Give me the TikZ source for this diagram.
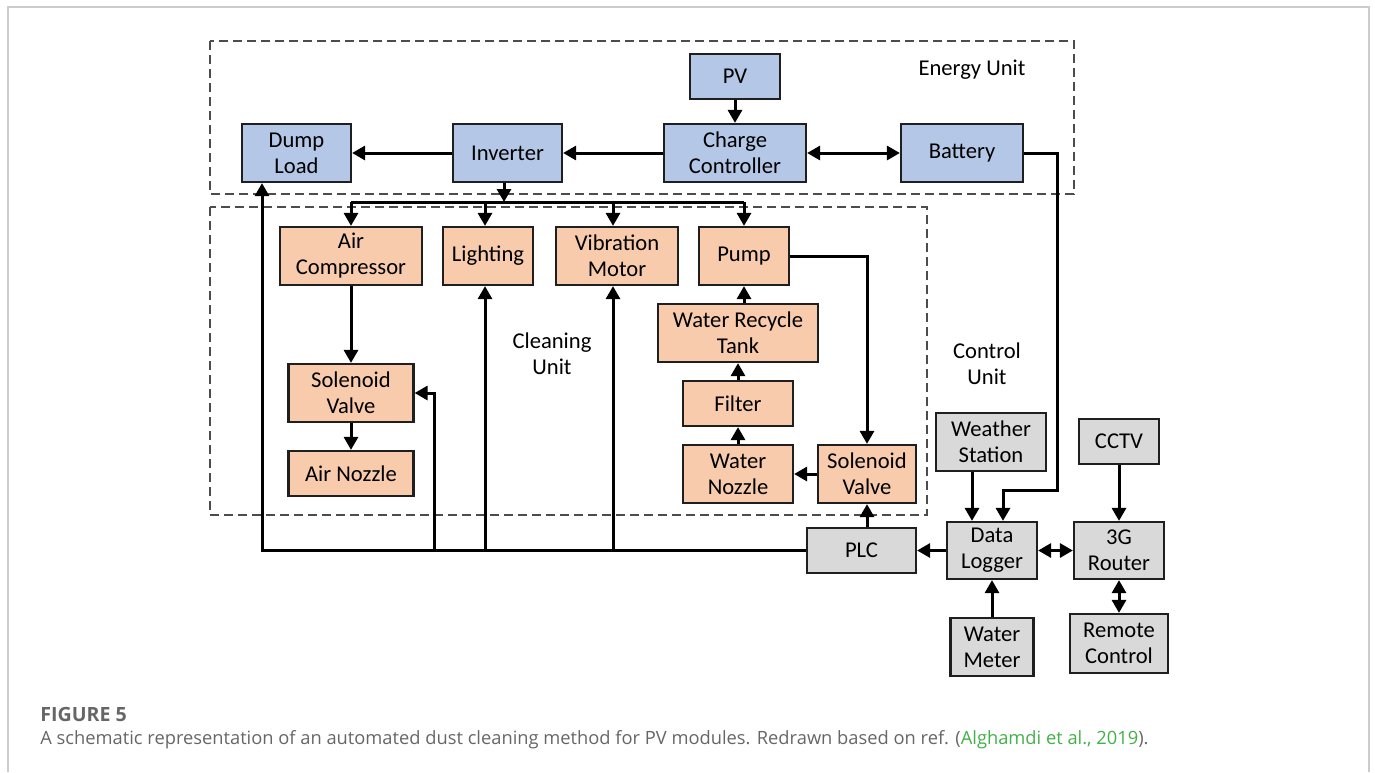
\documentclass[tikz,border=0pt]{standalone}
\usepackage{fontspec}
\setmainfont{Carlito}
\newfontfamily\capfont{Open Sans}
\usetikzlibrary{arrows.meta,calc}
\definecolor{eblue}{HTML}{B4C7E7}
\definecolor{corange}{HTML}{F8CBAD}
\definecolor{cgray}{HTML}{D9D9D9}
\definecolor{capgray}{HTML}{666666}
\definecolor{capgreen}{RGB}{67,176,73}
\begin{document}
\begin{tikzpicture}[x=0.5pt,y=-0.5pt,
  box/.style={draw=black!88, line width=1.1pt, align=center, inner sep=0pt, font=\fontsize{11.3}{13}\selectfont},
  ebox/.style={box, fill=eblue},
  cbox/.style={box, fill=corange},
  gbox/.style={box, fill=cgray},
  conn/.style={line width=1.5pt, black},
  arr/.style={conn, -{Triangle[length=6.5pt,width=7pt]}},
  darr/.style={conn, {Triangle[length=6.5pt,width=7pt]}-{Triangle[length=6.5pt,width=7pt]}},
  unitbox/.style={draw=black!70, line width=0.9pt, dash pattern=on 4.5pt off 2.5pt},
  lbl/.style={align=center, inner sep=0pt, font=\fontsize{11.3}{13}\selectfont}
]
\useasboundingbox (0,0) rectangle (1375,772);
% outer frame
\draw[black!20, line width=1pt] (8,772) -- (8,7) -- (1369,7) -- (1369,772);
% unit frames
\draw[unitbox] (210,41) rectangle (1074,194);
\draw[unitbox] (210,207) rectangle (927,515);
\node[lbl] (eu) at (972,70) {Energy Unit};
\node[lbl] (cu) at (552,354) {Cleaning\\Unit};
\node[lbl] (ctu) at (987,364) {Control\\Unit};
% energy unit
\node[ebox, minimum width=54.5pt, minimum height=29pt] (dump) at (296.5,153) {Dump\\Load};
\node[ebox, minimum width=54.5pt, minimum height=29pt] (inv) at (507.5,153) {Inverter};
\node[ebox, minimum width=71pt, minimum height=29pt] (cc) at (735,153) {Charge\\Controller};
\node[ebox, minimum width=45pt, minimum height=22.5pt] (pv) at (735,76.5) {PV};
\node[ebox, minimum width=61pt, minimum height=29pt] (bat) at (962,153) {Battery};
% cleaning unit
\node[cbox, minimum width=71pt, minimum height=29pt] (ac) at (351,256) {Air\\Compressor};
\node[cbox, minimum width=45pt, minimum height=29pt] (light) at (488,256) {Lighting};
\node[cbox, minimum width=61pt, minimum height=29pt] (vib) at (617,256) {Vibration\\Motor};
\node[cbox, minimum width=45pt, minimum height=29pt] (pump) at (744,256) {Pump};
\node[cbox, minimum width=62.5pt, minimum height=29pt] (sva) at (351,393) {Solenoid\\Valve};
\node[cbox, minimum width=62.5pt, minimum height=22.5pt] (an) at (351,473.5) {Air Nozzle};
\node[cbox, minimum width=80pt, minimum height=29pt] (tank) at (738,333) {Water Recycle\\Tank};
\node[cbox, minimum width=55pt, minimum height=22.5pt] (filt) at (738,403.5) {Filter};
\node[cbox, minimum width=55pt, minimum height=29pt] (wn) at (738,474) {Water\\Nozzle};
\node[cbox, minimum width=49pt, minimum height=29pt] (svw) at (867,474) {Solenoid\\Valve};
% control unit
\node[gbox, minimum width=55pt, minimum height=29pt] (ws) at (991,442) {Weather\\Station};
\node[gbox, minimum width=40pt, minimum height=22.5pt] (cctv) at (1119,441.5) {CCTV};
\node[gbox, minimum width=54.5pt, minimum height=22.5pt] (plc) at (861.5,550.5) {PLC};
\node[gbox, minimum width=45pt, minimum height=28.5pt] (dl) at (992,550.5) {Data\\Logger};
\node[gbox, minimum width=45pt, minimum height=28.5pt] (rt) at (1119,550.5) {3G\\Router};
\node[gbox, minimum width=41.5pt, minimum height=29pt] (wm) at (992,647) {Water\\Meter};
\node[gbox, minimum width=49pt, minimum height=29.5pt] (rc) at (1119,643.5) {Remote\\Control};
% energy connectors
\draw[arr] (pv) -- (cc);
\draw[darr] (cc) -- (bat);
\draw[arr] (cc) -- (inv);
\draw[arr] (inv) -- (dump);
% bus
\coordinate (bus) at (0,202);
\coordinate (xl) at (485,0);
\coordinate (xv) at (613,0);
\draw[arr] ($(inv.south)+(-3.5,0)$) -- ($(inv.south |- bus)+(-3.5,0)$);
\draw[conn] (ac.north |- bus) -- (pump.north |- bus);
\draw[arr] (ac.north |- bus) -- (ac.north);
\draw[arr] (xl |- bus) -- (xl |- light.north);
\draw[arr] (xv |- bus) -- (xv |- vib.north);
\draw[arr] (pump.north |- bus) -- (pump.north);
% air branch
\draw[arr] (ac) -- (sva);
\draw[arr] (sva) -- (an);
% water loop
\draw[arr] (pump.east) -| (svw.north);
\draw[arr] (svw) -- (wn);
\draw[arr] (wn) -- (filt);
\draw[arr] (filt) -- (tank);
\draw[arr] (pump.south |- tank.north) -- (pump.south);
% PLC lines
\coordinate (j1) at (434,0);
\draw[arr] (plc.west) -| ($(dump.south)+(-34.5,0)$);
\draw[arr] (j1 |- plc.west) |- (sva.east);
\draw[arr] (xl |- plc.west) -- (xl |- light.south);
\draw[arr] (xv |- plc.west) -- (xv |- vib.south);
\draw[arr] (svw.south |- plc.north) -- (svw.south);
% control connectors
\coordinate (bt) at (1057,490);
\draw[arr] (bat.east) -| (bt) -| ($(dl.north)+(11,0)$);
\draw[arr] ($(ws.south)+(-19,0)$) -- ($(dl.north)+(-20,0)$);
\draw[arr] (wm) -- (dl);
\draw[arr] (dl) -- (plc);
\draw[darr] (dl) -- (rt);
\draw[arr] (cctv) -- (rt);
\draw[darr] (rt) -- (rc);
% caption
\node[anchor=west, inner sep=0pt, text=capgray, font=\capfont\bfseries\fontsize{9.8}{12}\selectfont] (fig) at (40,714) {FIGURE 5};
\node[anchor=west, inner sep=0pt, text=capgray, font=\capfont\fontsize{9.15}{11}\selectfont] (cap) at (40,740) {A schematic representation of an automated dust cleaning method for PV modules. Redrawn based on ref. (\textcolor{capgreen}{Alghamdi et al., 2019}).};
\end{tikzpicture}
\end{document}
